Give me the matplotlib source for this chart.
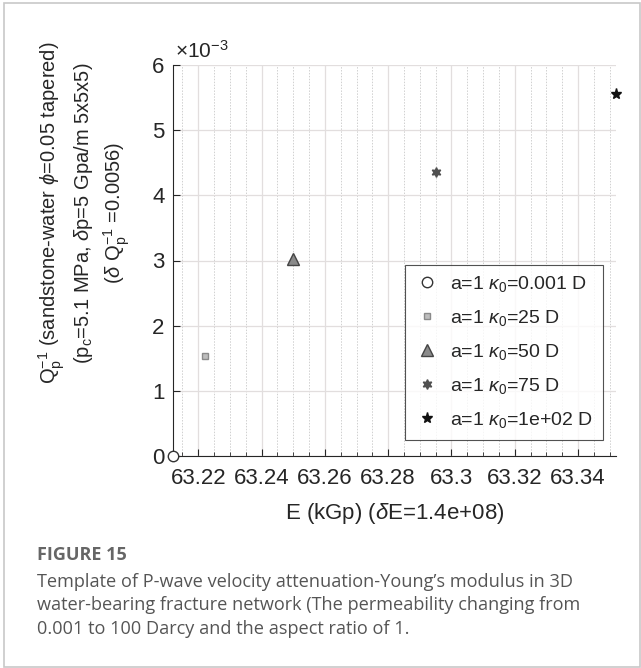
import matplotlib
matplotlib.use("Agg")
import matplotlib.pyplot as plt
from matplotlib.ticker import MultipleLocator, FuncFormatter
from matplotlib.patches import Rectangle

plt.rcParams['font.family'] = ['Liberation Sans', 'DejaVu Sans']
plt.rcParams['mathtext.fontset'] = 'custom'
plt.rcParams['mathtext.rm'] = 'Liberation Sans'
plt.rcParams['mathtext.it'] = 'Liberation Sans:italic'

# Data
E_vals = [63.212, 63.2222, 63.250, 63.295, 63.352]
Q_vals = [0.0, 0.00153, 0.00302, 0.00436, 0.00556]
labels = [r'a=1 $\kappa_0$=0.001 D', r'a=1 $\kappa_0$=25 D', r'a=1 $\kappa_0$=50 D',
          r'a=1 $\kappa_0$=75 D', r'a=1 $\kappa_0$=1e+02 D']
x_ticks = [63.22, 63.24, 63.26, 63.28, 63.30, 63.32, 63.34]
x_tick_labels = ['63.22', '63.24', '63.26', '63.28', '63.3', '63.32', '63.34']
y_ticks = [0, 0.001, 0.002, 0.003, 0.004, 0.005, 0.006]

markers = ['o', 's', '^', (6, 1, 0), '*']
faces = ['white', '#bdbdbd', '#8a8a8a', '#505050', '#111111']
edges = ['#333333', '#8a8a8a', '#444444', '#505050', '#111111']
msizes = [7.5, 5, 8, 7, 8]

W, H = 641, 668
fig = plt.figure(figsize=(W/100, H/100), dpi=100)
ax = fig.add_axes([173/W, 1-456/H, (616-173)/W, (456-65)/H])

for x, y, m, fc, ec, ms, lab in zip(E_vals, Q_vals, markers, faces, edges, msizes, labels):
    ax.plot([x], [y], linestyle='none', marker=m, markerfacecolor=fc,
            markeredgecolor=ec, markersize=ms, label=lab, clip_on=False, zorder=5)

ax.set_xlim(E_vals[0], E_vals[-1])
ax.set_ylim(0, 0.006)
ax.set_xticks(x_ticks)
ax.set_xticklabels(x_tick_labels)
ax.set_yticks(y_ticks)
ax.yaxis.set_major_formatter(FuncFormatter(lambda v, p: f'{v*1000:g}'))
ax.xaxis.set_minor_locator(MultipleLocator(0.005))

ax.grid(True, which='major', axis='both', color='#e2dede', linewidth=0.9, linestyle='-')
ax.grid(True, which='minor', axis='x', color='#d0d0d0', linewidth=0.7, linestyle=(0, (1.5, 1.5)))
ax.set_axisbelow(True)

for s in ['top', 'right']:
    ax.spines[s].set_visible(False)
for s in ['left', 'bottom']:
    ax.spines[s].set_color('#262626')
    ax.spines[s].set_linewidth(0.8)

ax.tick_params(axis='both', which='major', direction='in', length=5, width=0.8,
               colors='#262626', labelsize=16, labelcolor='#262626')
ax.tick_params(axis='x', which='major', pad=9)
ax.tick_params(axis='y', which='major', pad=6)
ax.tick_params(axis='x', which='minor', direction='in', length=3, width=0.6, colors='#262626')
ax.tick_params(axis='y', which='minor', left=False)

ax.text(0.005, 1.008, r'$\times10^{-3}$', transform=ax.transAxes, fontsize=15,
        color='#262626', ha='left', va='bottom')

ax.set_xlabel(r'E (kGp) ($\delta$E=1.4e+08)', fontsize=16, color='#262626', labelpad=8)

ylab = (r'$\mathregular{Q_p^{-1}}$ (sandstone-water $\phi$=0.05 tapered)' + '\n' +
        r'($\mathregular{p_c}$=5.1 MPa, $\delta$p=5 Gpa/m 5x5x5)' + '\n' +
        r'($\delta$ $\mathregular{Q_p^{-1}}$ =0.0056)')
fig.text(84/W, 1-213/H, ylab, rotation=90, fontsize=14.5, color='#262626',
         ha='center', va='center', multialignment='center', linespacing=1.3)

leg = ax.legend(loc='lower right', bbox_to_anchor=((603-173)/(616-173), (456-440)/(456-65)),
                fontsize=14, frameon=True, fancybox=False, edgecolor='#262626',
                labelspacing=0.72, handletextpad=0.6, borderpad=0.5, handlelength=1.2,
                borderaxespad=0)
leg.get_frame().set_linewidth(0.8)
for t in leg.get_texts():
    t.set_color('#262626')

# Caption
fig.text(37/W, 1-555/H, 'FIGURE 15', fontsize=13, fontweight='bold', family='Open Sans',
         color='#666666', ha='left', va='center')
cap = ["Template of P-wave velocity attenuation-Young\u2019s modulus in 3D",
       "water-bearing fracture network (The permeability changing from",
       "0.001 to 100 Darcy and the aspect ratio of 1."]
for i, line in enumerate(cap):
    fig.text(37/W, 1-(582+23.5*i)/H, line, fontsize=13.1, family='Open Sans',
             color='#555555', ha='left', va='center')

fig.patches.append(Rectangle((4/W, 1-667/H), (640-4)/W, (667-3)/H, transform=fig.transFigure,
                             fill=False, edgecolor='#c8c8c8', linewidth=1.2))

fig.savefig('out.png', dpi=100)
